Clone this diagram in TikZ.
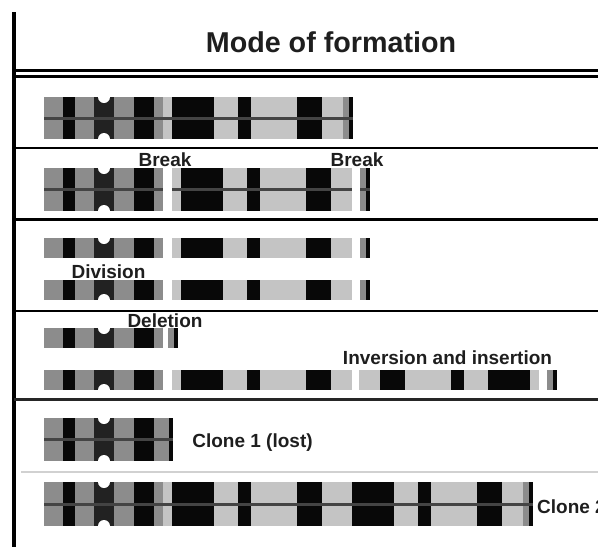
\documentclass[tikz,border=0pt]{standalone}
\usepackage{fontspec}
\setmainfont{Liberation Sans}
\begin{document}
\definecolor{gmid}{HTML}{8C8C8C}
\definecolor{glight}{HTML}{C4C4C4}
\definecolor{gblk}{HTML}{080808}
\definecolor{gcen}{HTML}{222222}
\definecolor{gline}{HTML}{444444}
\definecolor{txt}{HTML}{1E1E1E}
% band blocks: #1 = left x, #2 = top y, #3 = bottom y
\newcommand{\armA}[3]{%
  \fill[gmid] (#1,#2) rectangle ({#1+119},#3);
  \fill[gblk] ({#1+19},#2) rectangle ({#1+31},#3);
  \fill[gblk] ({#1+90},#2) rectangle ({#1+110},#3);
  \fill[gcen] ({#1+50},#2) rectangle ({#1+70},#3);}
\newcommand{\armB}[3]{%
  \fill[glight] (#1,#2) rectangle ({#1+180},#3);
  \fill[gblk] ({#1+9},#2) rectangle ({#1+51},#3);
  \fill[gblk] ({#1+75},#2) rectangle ({#1+88},#3);
  \fill[gblk] ({#1+134},#2) rectangle ({#1+159},#3);}
\newcommand{\armBinv}[3]{%
  \fill[glight] (#1,#2) rectangle ({#1+180},#3);
  \fill[gblk] ({#1+21},#2) rectangle ({#1+46},#3);
  \fill[gblk] ({#1+92},#2) rectangle ({#1+105},#3);
  \fill[gblk] ({#1+129},#2) rectangle ({#1+171},#3);}
\newcommand{\armC}[3]{%
  \fill[gmid] (#1,#2) rectangle ({#1+6},#3);
  \fill[gblk] ({#1+6},#2) rectangle ({#1+10},#3);}
% centromere notch on an edge: #1 = arm A left x, #2 = edge y
\newcommand{\notch}[2]{\fill[white] ({#1+60},#2) circle[radius=6pt];}
% chromatid axis line
\newcommand{\axis}[3]{\draw[axisline] (#1,#3) -- (#2,#3);}
\begin{tikzpicture}[x=1pt,y=-1pt,
    frame/.style={line width=2.3pt,draw=black},
    thinrule/.style={line width=1.2pt,draw=black!18},
    axisline/.style={line width=3pt,draw=gline},
    lbl/.style={text=txt,font=\fontsize{19}{22}\selectfont\bfseries,inner sep=0pt},
    ttl/.style={text=txt,font=\fontsize{28.7}{32}\selectfont\bfseries,inner sep=0pt}]
\useasboundingbox (0,0) rectangle (598,547);
\clip (0,0) rectangle (598,547);

% table frame
\draw[line width=3.2pt] (14,12) -- (14,547);
\draw[frame] (14,70.5) -- (598,70.5);
\draw[frame] (14,76.5) -- (598,76.5);
\draw[frame] (14,148) -- (598,148);
\draw[frame] (14,219.5) -- (598,219.5);
\draw[frame] (14,311) -- (598,311);
\draw[frame,draw=black!85] (14,399.5) -- (598,399.5);
\draw[thinrule] (21,472) -- (598,472);

\node[ttl,anchor=base] (title) at (331,52) {Mode of formation};

% normal chromosome
\armA{44}{97}{139}\armB{163}{97}{139}\armC{343}{97}{139}
\axis{44}{353}{118}
\notch{44}{97}\notch{44}{139}

% two breaks
\armA{44}{168}{211}\armB{172}{168}{211}\armC{360}{168}{211}
\axis{44}{163}{189.5}\axis{172}{352}{189.5}\axis{360}{370}{189.5}
\notch{44}{168}\notch{44}{211}
\node[lbl,anchor=base] (brk1) at (165,166) {Break};
\node[lbl,anchor=base] (brk2) at (357,166) {Break};

% division into two chromatids
\armA{44}{238}{258}\armB{172}{238}{258}\armC{360}{238}{258}
\notch{44}{238}
\armA{44}{280}{300}\armB{172}{280}{300}\armC{360}{280}{300}
\notch{44}{300}
\node[lbl,anchor=base] (div) at (108.5,278) {Division};

% deletion / inversion and insertion
\armA{44}{328}{348}\armC{168}{328}{348}
\notch{44}{328}
\node[lbl,anchor=base] (del) at (165,327) {Deletion};
\armA{44}{370}{390}\armB{172}{370}{390}\armBinv{359}{370}{390}\armC{547}{370}{390}
\notch{44}{390}
\node[lbl,anchor=base] (inv) at (447.5,364) {Inversion and insertion};

% clone 1
\armA{44}{418}{461}\armC{163}{418}{461}
\axis{44}{173}{439.5}
\notch{44}{418}\notch{44}{461}
\node[lbl,anchor=base] (cl1) at (252.5,447) {Clone 1 (lost)};

% clone 2
\armA{44}{482}{526}\armB{163}{482}{526}\armB{343}{482}{526}\armC{523}{482}{526}
\axis{44}{533}{504}
\notch{44}{482}\notch{44}{526}
\node[lbl,anchor=base west] (cl2) at (537,513) {Clone 2};
\end{tikzpicture}
\end{document}
